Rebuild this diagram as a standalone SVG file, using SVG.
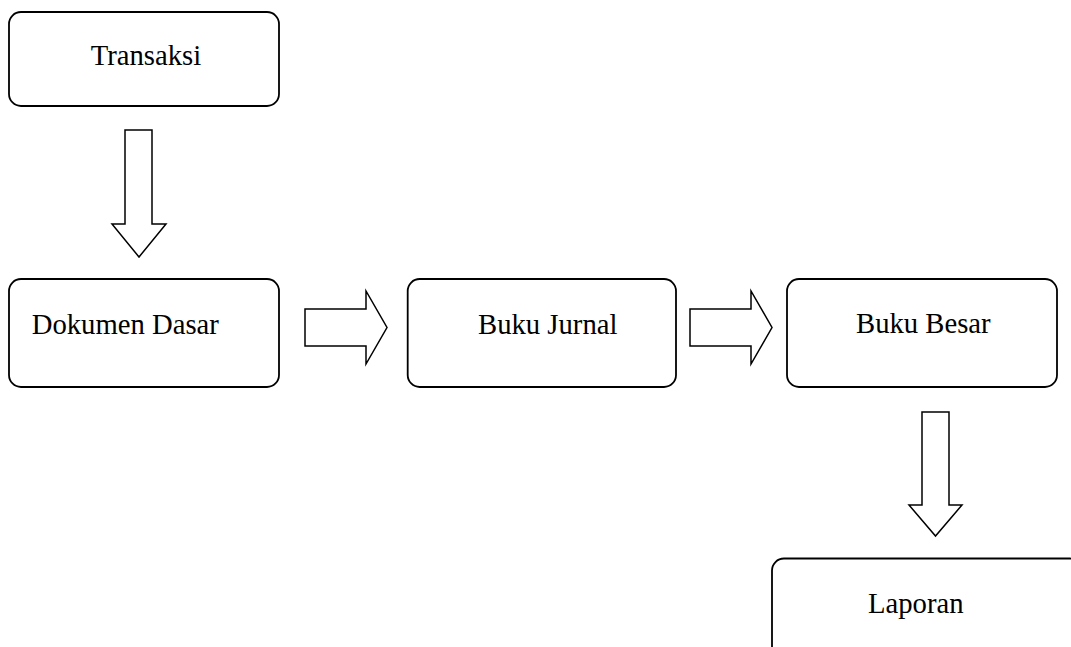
<svg xmlns="http://www.w3.org/2000/svg" width="1071" height="647" viewBox="0 0 1071 647">
<style>
.box{fill:#fff;stroke:#000;stroke-width:1.8}
.arr{fill:#fff;stroke:#000;stroke-width:1.5;stroke-linejoin:miter}
.lbl{font-family:"Liberation Serif","Times New Roman",serif;font-size:28.7px;fill:#000}
</style>
<rect width="1071" height="647" fill="#fff"/>
<g id="connectors">
<path class="arr" d="M125,130 H152 V224 H166 L139,257 L112,224 H125 Z"/>
<path class="arr" d="M305,309 H366 V291 L387,327.5 L366,364 V346 H305 Z"/>
<path class="arr" d="M690,309 H751 V291 L772,327.5 L751,364 V346 H690 Z"/>
<path class="arr" d="M922,412 H949 V505 H962 L935.5,536 L909,505 H922 Z"/>
</g>
<g id="transaksi">
<rect class="box" x="9" y="12" width="270" height="94" rx="12"/>
<text class="lbl" x="90.7" y="65">Transaksi</text>
</g>
<g id="dokumen-dasar">
<rect class="box" x="9" y="279" width="270" height="108" rx="12"/>
<text class="lbl" x="31.7" y="334">Dokumen Dasar</text>
</g>
<g id="buku-jurnal">
<rect class="box" x="407.7" y="279" width="268.3" height="108" rx="12"/>
<text class="lbl" x="478" y="334">Buku Jurnal</text>
</g>
<g id="buku-besar">
<rect class="box" x="787" y="279" width="270" height="108" rx="12"/>
<text class="lbl" x="856" y="333">Buku Besar</text>
</g>
<g id="laporan">
<rect class="box" x="772" y="558.5" width="310" height="120" rx="12"/>
<text class="lbl" x="868" y="613">Laporan</text>
</g>
</svg>
